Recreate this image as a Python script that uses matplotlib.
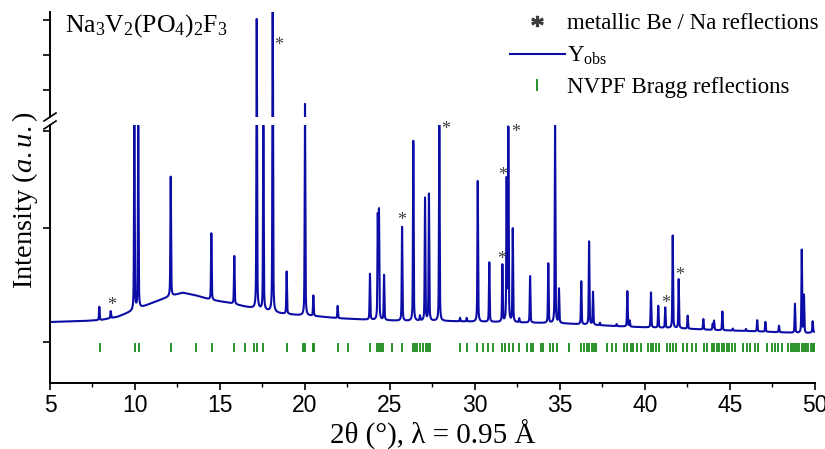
import numpy as np
import matplotlib
matplotlib.use('Agg')
from matplotlib import pyplot as plt
from matplotlib.lines import Line2D

plt.rcParams['font.family'] = 'Liberation Serif'
plt.rcParams['mathtext.fontset'] = 'custom'
plt.rcParams['mathtext.rm'] = 'Liberation Serif'
plt.rcParams['mathtext.it'] = 'Liberation Serif:italic'

# baseline of the pattern (2theta, counts)
base_x = [5, 7, 8, 9, 10, 11, 12, 12.8, 13.5, 14.5, 15.5, 16.5, 17.5, 18.5, 19.5,
          20.5, 22, 24, 26, 28, 30, 35, 37, 39, 40, 42, 44, 46, 48, 49.5, 50]
base_y = [0, 10, 20, 53, 120, 190, 253, 293, 270, 220, 193, 153, 120, 87, 70,
          60, 37, 20, 10, 10, 3, -13, -30, -47, -53, -63, -80, -90, -103, -113, -100]

# observed peaks: position and height above baseline
peak_pos = [7.90, 8.57, 9.96, 10.19, 12.10, 14.49, 15.84, 17.16, 17.55, 18.10,
            18.92, 20.00, 20.49, 21.92, 23.82, 24.28, 24.35, 24.65, 25.71, 26.37,
            26.76, 27.06, 27.29, 27.90, 29.12, 29.51, 30.16, 30.84, 31.61, 31.86,
            31.96, 32.22, 32.60, 33.24, 34.31, 34.71, 34.94, 36.25, 36.71, 36.94,
            37.35, 38.33, 38.96, 39.10, 40.35, 40.78, 41.19, 41.63, 41.98, 42.51,
            43.43, 43.98, 44.06, 44.55, 45.16, 45.94, 46.60, 47.08, 47.88, 48.82,
            49.22, 49.35, 49.86]
peak_h = [133, 70, 1845, 1830, 1195, 667, 480, 2845, 1840, 3200,
          423, 2065, 203, 122, 458, 1020, 1070, 450, 938, 1800,
          50, 1227, 1267, 1960, 35, 35, 1407, 595, 570, 1403,
          1920, 932, 40, 465, 595, 1980, 340, 430, 832, 328,
          25, 20, 355, 60, 350, 218, 203, 925, 490, 130,
          105, 60, 93, 188, 20, 20, 112, 98, 65, 290,
          830, 375, 110]

# metallic Be / Na reflections: asterisk positions (2theta, counts)
star_x = [8.6, 18.43, 25.71, 28.27, 31.57, 31.6, 32.37, 41.19, 42.06]
star_y = [170, 2720, 1010, 1920, 630, 1470, 1897, 187, 463]

# NVPF Bragg reflection positions
bragg = [7.94, 10.0, 10.24, 12.12, 13.59, 14.53, 15.84, 16.47, 17.02, 17.2,
         17.55, 18.92, 19.86, 20.02, 20.45, 20.55, 21.96, 22.55, 23.82, 24.22,
         24.35, 24.45, 24.61, 25.14, 25.69, 26.33, 26.45, 26.57, 26.76, 26.96,
         27.12, 27.25, 27.35, 29.12, 29.51, 30.14, 30.49, 30.78, 31.04, 31.57,
         31.76, 32.02, 32.25, 32.61, 33.04, 33.29, 33.39, 33.86, 34.02, 34.41,
         34.61, 34.84, 35.53, 36.22, 36.41, 36.57, 36.72, 36.86, 37.0, 37.12,
         37.75, 38.04, 38.29, 38.76, 38.92, 39.16, 39.31, 39.51, 39.75, 40.19,
         40.35, 40.49, 40.65, 40.81, 41.27, 41.47, 41.63, 41.82, 42.25, 42.45,
         42.75, 43.0, 43.49, 43.63, 43.92, 44.06, 44.22, 44.35, 44.51, 44.65,
         44.81, 44.96, 45.14, 45.29, 45.78, 45.98, 46.18, 46.47, 46.67, 47.16,
         47.45, 47.65, 47.84, 48.04, 48.43, 48.57, 48.69, 48.82, 48.96, 49.08,
         49.22, 49.35, 49.47, 49.6, 49.75, 49.86, 49.96]
bragg_lo, bragg_hi = -300, -210

low_lim = (-610, 1970)
up_lim = (2000, 3050)
low_ticks = [-200, 940, 1910]
up_ticks = [2270, 2620, 2970]

blue = '#0c0ca6'
green = '#1a8a1a'
star_col = '#3c3c3c'


def pattern(x):
    y = np.interp(x, base_x, base_y)
    w = 0.045
    for p, h in zip(peak_pos, peak_h):
        d = (x - p) / (w / 2)
        y = y + h * (0.5 / (1 + d ** 2) + 0.5 * np.exp(-np.log(2) * d ** 2))
    return y


tt = np.linspace(5, 50, 9001)
yy = pattern(tt)

fig = plt.figure(figsize=(8.25, 4.49), dpi=100)
W, H = 825, 449
ax_lo = fig.add_axes([50 / W, 1 - 383 / H, 765 / W, 258 / H])
ax_up = fig.add_axes([50 / W, 1 - 117 / H, 765 / W, 105 / H], sharex=ax_lo)

for ax in (ax_lo, ax_up):
    ax.plot(tt, yy, color=blue, lw=1.5)
    ax.spines['top'].set_visible(False)
    ax.spines['right'].set_visible(False)
    ax.spines['left'].set_linewidth(1.4)
    ax.spines['bottom'].set_linewidth(1.4)
    ax.tick_params(axis='y', direction='out', length=5, width=1.2, labelleft=False)
    ax.set_facecolor('none')

ax_up.spines['bottom'].set_visible(False)
ax_up.tick_params(axis='x', which='both', bottom=False, labelbottom=False)
ax_lo.set_ylim(*low_lim)
ax_up.set_ylim(*up_lim)
ax_lo.set_yticks(low_ticks)
ax_up.set_yticks(up_ticks)

ax_lo.set_xlim(5, 50)
ax_lo.set_xticks(np.arange(5, 51, 5))
ax_lo.set_xticks(np.arange(7.5, 50, 5), minor=True)
ax_lo.tick_params(axis='x', which='major', direction='out', length=5, width=1.2,
                  labelsize=16.5, pad=3)
ax_lo.tick_params(axis='x', which='minor', direction='out', length=3, width=1.0)
for lab in ax_lo.get_xticklabels():
    lab.set_fontfamily('Liberation Sans')

ax_lo.vlines(bragg, bragg_lo, bragg_hi, color=green, lw=1.3)

for sx, sy in zip(star_x, star_y):
    ax = ax_up if sy > up_lim[0] else ax_lo
    ax.text(sx, sy, '*', color=star_col, fontsize=13, ha='center', va='center')

ax_lo.set_xlabel('2θ (°), λ = 0.95 Å', fontsize=21, labelpad=2)
fig.text(25 / W, 1 - 200 / H, r'Intensity ($\mathit{a.u.}$)', rotation=90,
         fontsize=20.5, ha='center', va='center')
ax_up.text(15 / 765, 0.87, r'Na$_3$V$_2$(PO$_4$)$_2$F$_3$', transform=ax_up.transAxes,
           fontsize=18.5, ha='left', va='center')

# break marks on the left spine
for ax, yf in ((ax_up, 0.0), (ax_lo, 1.0)):
    dx = 6 / 765
    dy = 4 / (105 if ax is ax_up else 258)
    ax.plot([-dx, dx], [yf - dy, yf + dy], transform=ax.transAxes, color='k',
            lw=1.2, clip_on=False)

handles = [Line2D([], [], ls='none', marker=r'$*$', color=star_col, ms=8),
           Line2D([], [], color=blue, lw=1.5),
           Line2D([], [], ls='none', marker='|', color=green, ms=8, mew=1.3)]
labels = ['metallic Be / Na reflections', r'Y$_{\rm obs}$', 'NVPF Bragg reflections']
fig.legend(handles, labels, loc='upper right', bbox_to_anchor=(828 / W, 1 - 4 / H),
           frameon=False, fontsize=16.5, handlelength=2.4, handletextpad=0.1,
           labelspacing=0.45, borderaxespad=0)

fig.savefig('out.png', dpi=100)
